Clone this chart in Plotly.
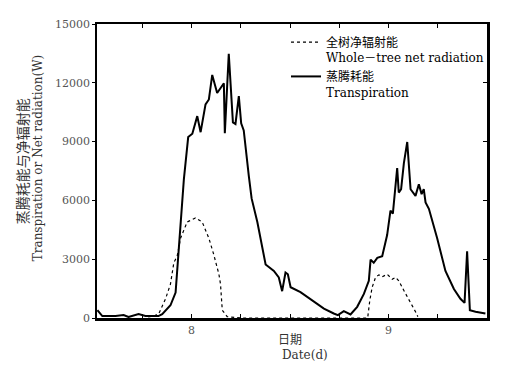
import plotly.graph_objects as go

# Transpiration (solid line), day vs W
trans_day = [7.522, 7.547, 7.614, 7.655, 7.680, 7.731, 7.766, 7.832, 7.851, 7.893,
             7.919, 7.936, 7.961, 7.983, 8.004, 8.029, 8.046, 8.071, 8.088, 8.105,
             8.130, 8.164, 8.169, 8.189, 8.210, 8.223, 8.240, 8.252, 8.265, 8.291,
             8.305, 8.334, 8.376, 8.418, 8.443, 8.460, 8.477, 8.489, 8.503, 8.553,
             8.587, 8.621, 8.672, 8.722, 8.743, 8.773, 8.807, 8.841, 8.875, 8.900,
             8.909, 8.925, 8.943, 8.968, 8.993, 9.010, 9.022, 9.044, 9.052, 9.064,
             9.078, 9.095, 9.112, 9.137, 9.154, 9.168, 9.179, 9.188, 9.205, 9.247,
             9.289, 9.332, 9.365, 9.386, 9.399, 9.413, 9.442, 9.492]
trans_val = [400, 100, 100, 150, 50, 200, 100, 100, 200, 650,
             1300, 3750, 7070, 9230, 9400, 10300, 9480, 10900, 11150, 12400,
             11480, 11980, 9430, 13480, 9980, 9900, 11320, 9930, 9570, 7230,
             6100, 4900, 2730, 2400, 2070, 1370, 2320, 2230, 1570, 1320,
             1070, 820, 480, 230, 150, 350, 180, 570, 1230, 1900,
             2980, 2820, 3070, 3150, 4230, 5480, 5320, 7650, 6400, 6570,
             7900, 8980, 6570, 6230, 6820, 6320, 6570, 5900, 5570, 4070,
             2400, 1480, 980, 770, 3400, 400, 320, 230]

# Whole-tree net radiation (dotted line)
rad_day = [7.780, 7.809, 7.834, 7.868, 7.893, 7.910, 7.927, 7.944, 7.978, 8.020,
           8.054, 8.088, 8.113, 8.139, 8.147, 8.156, 8.181, 8.250, 8.600, 8.893,
           8.895, 8.905, 8.917, 8.934, 8.951, 8.968, 8.993, 9.019, 9.036, 9.052,
           9.078, 9.112, 9.137, 9.149]
rad_val = [50, 100, 230, 980, 1730, 2820, 3150, 4070, 4900, 5100,
           4900, 4070, 3230, 2230, 1730, 400, 70, 0, 0, 0,
           70, 900, 1570, 2070, 2200, 2100, 2230, 1980, 2070, 1900,
           1400, 820, 320, 70]

x_tickvals = [7.75, 8.0, 8.25, 8.5, 8.75, 9.0, 9.25]
x_ticktext = ["", "8", "", "", "", "9", ""]
y_tickvals = [0, 3000, 6000, 9000, 12000, 15000]
y_ticktext = ["0", "3000", "6000", "9000", "12000", "15000"]

SERIF = "DejaVu Serif, Noto Sans CJK SC, serif"
CJK = "Noto Sans CJK SC"

# page body adds an 8px offset; compensate so the figure fills 505x371
OFF = 8
W, H = 505 - OFF, 371 - OFF
L, R, T, B = 97 - OFF, 18, 18 - OFF, 53
PW, PH = W - L - R, H - T - B

fig = go.Figure()
fig.add_trace(go.Scatter(x=rad_day, y=rad_val, mode="lines",
                         line=dict(color="black", width=1.2, dash="dot"),
                         name="全树净辐射能<br>Whole－tree net radiation"))
fig.add_trace(go.Scatter(x=trans_day, y=trans_val, mode="lines",
                         line=dict(color="black", width=2),
                         name="蒸腾耗能<br>Transpiration"))
# invisible helper so the top/right frame axes are drawn
fig.add_trace(go.Scatter(x=[8], y=[0], xaxis="x2", yaxis="y2", mode="markers",
                         marker=dict(opacity=0), showlegend=False, hoverinfo="skip"))

fig.update_layout(
    width=W, height=H,
    margin=dict(l=L, r=R, t=T, b=B, pad=0),
    paper_bgcolor="white", plot_bgcolor="white",
    font=dict(family=SERIF, color="#333", size=12),
    showlegend=True,
    legend=dict(x=(286 - 97) / PW, y=(318 - 22) / PH, xanchor="left", yanchor="top",
                bgcolor="rgba(0,0,0,0)", borderwidth=0, valign="top",
                font=dict(family=SERIF, size=12, color="black"),
                tracegroupgap=0, itemwidth=30),
    xaxis=dict(range=[7.52, 9.5], tickvals=x_tickvals, ticktext=x_ticktext,
               ticks="inside", ticklen=4, tickwidth=1.2, tickcolor="black",
               showline=True, linecolor="black", linewidth=3,
               showgrid=False, zeroline=False,
               tickfont=dict(family=SERIF, size=11, color="#555")),
    xaxis2=dict(range=[7.52, 9.5], overlaying="x", side="top", anchor="y",
                tickvals=x_tickvals, showticklabels=False,
                ticks="inside", ticklen=4, tickwidth=1.2, tickcolor="black",
                showline=True, linecolor="black", linewidth=1.5,
                showgrid=False, zeroline=False),
    yaxis=dict(range=[0, 15000], tickvals=y_tickvals, ticktext=y_ticktext,
               ticks="outside", ticklen=3, tickwidth=1.2, tickcolor="black",
               showline=True, linecolor="black", linewidth=1.5,
               showgrid=False, zeroline=False,
               tickfont=dict(family=SERIF, size=11, color="#555")),
    yaxis2=dict(range=[0, 15000], overlaying="y", side="right", anchor="x",
                tickvals=y_tickvals, showticklabels=False,
                ticks="inside", ticklen=4, tickwidth=1.2, tickcolor="black",
                showline=True, linecolor="black", linewidth=3,
                showgrid=False, zeroline=False),
)

# positions below are in screen pixels of the 505x371 picture
annotations = [
    dict(text="蒸腾耗能与净辐射能", x=22, y=158, textangle=-90,
         font=dict(family=CJK, size=14, color="#333")),
    dict(text="Transpiration or Net radiation(W)", x=38, y=155, textangle=-90,
         font=dict(family=SERIF, size=12, color="#333")),
    dict(text="日期", x=290, y=339,
         font=dict(family=CJK, size=12, color="#333")),
    dict(text="Date(d)", x=305, y=356,
         font=dict(family=SERIF, size=12, color="#333")),
]
for a in annotations:
    a.update(xref="paper", yref="paper", showarrow=False,
             xanchor="center", yanchor="middle")
    a["x"] = (a["x"] - 97) / PW
    a["y"] = (318 - a["y"]) / PH
fig.update_layout(annotations=annotations)

fig.write_html("out.html")
